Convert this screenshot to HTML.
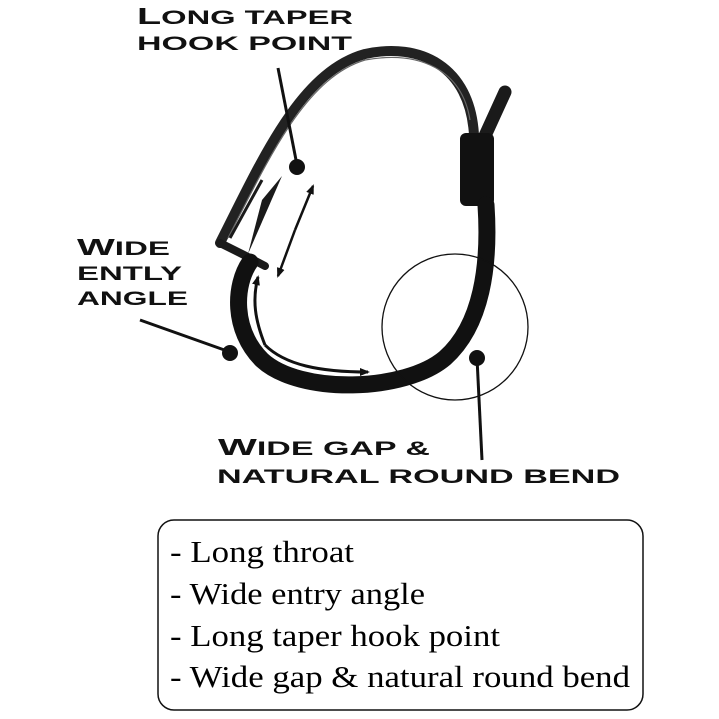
<!DOCTYPE html>
<html><head><meta charset="utf-8"><style>
html,body{margin:0;padding:0;background:#fff;width:719px;height:719px;overflow:hidden}
svg{display:block}
.lab{font-family:"Liberation Sans",sans-serif;font-weight:bold;fill:#111}
.ser{font-family:"Liberation Serif",serif;font-size:31px;fill:#000}
</style></head><body>
<svg width="719" height="719" viewBox="0 0 719 719" xmlns="http://www.w3.org/2000/svg">
<defs>
<marker id="ah" markerWidth="10" markerHeight="10" refX="8" refY="5" orient="auto" markerUnits="userSpaceOnUse">
<path d="M0,1 L10,5 L0,9 Z" fill="#111"/></marker>
</defs>
<!-- labels -->
<text class="lab" x="137" y="24" font-size="19" textLength="216" lengthAdjust="spacingAndGlyphs"><tspan font-size="23">L</tspan>ONG TAPER</text>
<text class="lab" x="137" y="50" font-size="19" textLength="215" lengthAdjust="spacingAndGlyphs">HOOK POINT</text>
<text class="lab" x="77" y="255" font-size="19" textLength="93" lengthAdjust="spacingAndGlyphs"><tspan font-size="23">W</tspan>IDE</text>
<text class="lab" x="77" y="280" font-size="19" textLength="105" lengthAdjust="spacingAndGlyphs">ENTLY</text>
<text class="lab" x="77" y="305" font-size="19" textLength="111" lengthAdjust="spacingAndGlyphs">ANGLE</text>
<text class="lab" x="218" y="455" font-size="19" textLength="212" lengthAdjust="spacingAndGlyphs"><tspan font-size="23">W</tspan>IDE GAP &amp;</text>
<text class="lab" x="217" y="483" font-size="19" textLength="403" lengthAdjust="spacingAndGlyphs">NATURAL ROUND BEND</text>

<!-- leader loop -->
<path d="M474 135 C470 66 420 42 365 54 C300 72 262 160 220 243" fill="none" stroke="#222" stroke-width="10" stroke-linecap="round"/>
<path d="M470 120 C462 70 420 50 365 60 C305 78 268 160 228 238" fill="none" stroke="#666" stroke-width="1.2"/>
<path d="M220 243 L246 256 L265 266" fill="none" stroke="#1a1a1a" stroke-width="8" stroke-linecap="round"/>
<path d="M282 176 L248 254 L262 200 Z" fill="#1a1a1a"/>
<path d="M230 238 L262 180" stroke="#1a1a1a" stroke-width="3"/>
<!-- tail and sleeve -->
<path d="M484 138 L505 92" stroke="#1a1a1a" stroke-width="13" stroke-linecap="round"/>
<rect x="460" y="133" width="34" height="73" rx="6" fill="#111"/>
<!-- main hook -->
<path d="M486 205 C490 265 482 325 445 358 C405 392 300 395 262 360 C232 330 234 285 250 262" fill="none" stroke="#111" stroke-width="17" stroke-linecap="round"/>
<!-- circle -->
<circle cx="455" cy="327" r="73" fill="none" stroke="#111" stroke-width="1.3"/>
<!-- pointer lines & dots -->
<line x1="278" y1="68" x2="297" y2="165" stroke="#111" stroke-width="3"/>
<circle cx="297" cy="167" r="8" fill="#111"/>
<line x1="140" y1="320" x2="230" y2="352" stroke="#111" stroke-width="3"/>
<circle cx="230" cy="353" r="8" fill="#111"/>
<line x1="477" y1="358" x2="482" y2="460" stroke="#111" stroke-width="3"/>
<circle cx="477" cy="358" r="8" fill="#111"/>
<!-- arrows -->
<line x1="295" y1="230" x2="313" y2="186" stroke="#111" stroke-width="2.5" marker-end="url(#ah)"/>
<line x1="295" y1="230" x2="278" y2="276" stroke="#111" stroke-width="2.5" marker-end="url(#ah)"/>
<path d="M265 345 C255 320 252 300 258 277" fill="none" stroke="#111" stroke-width="3" marker-end="url(#ah)"/>
<path d="M265 345 C285 365 320 372 368 372" fill="none" stroke="#111" stroke-width="3" marker-end="url(#ah)"/>
<!-- box -->
<rect x="158" y="520" width="485" height="190" rx="16" fill="none" stroke="#111" stroke-width="1.5"/>
<text class="ser" x="170" y="562" textLength="184" lengthAdjust="spacingAndGlyphs">- Long throat</text>
<text class="ser" x="170" y="604" textLength="255" lengthAdjust="spacingAndGlyphs">- Wide entry angle</text>
<text class="ser" x="170" y="646" textLength="330" lengthAdjust="spacingAndGlyphs">- Long taper hook point</text>
<text class="ser" x="170" y="687" textLength="460" lengthAdjust="spacingAndGlyphs">- Wide gap &amp; natural round bend</text>
</svg>
</body></html>
